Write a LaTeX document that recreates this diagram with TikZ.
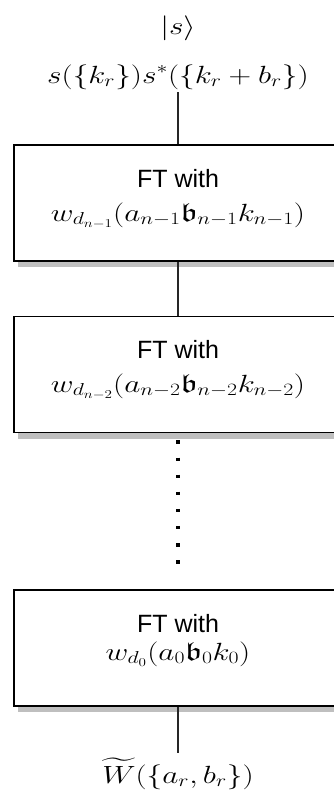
\documentclass[tikz,border=0pt]{standalone}
\usepackage{amsmath,amssymb}
\usepackage{graphicx}
\usepackage{fontspec}
\setsansfont{Liberation Sans}
\usetikzlibrary{shadows}
\newcommand{\widemath}[1]{\scalebox{1.26}[1]{$#1$}}
\tikzset{
  x=1pt,y=1pt,
  ftbox/.style={draw=black,line width=1.8pt,fill=white,minimum width=328pt,minimum height=116pt,inner sep=0pt,
    drop shadow={shadow xshift=4pt,shadow yshift=-6pt,fill=gray!50,opacity=1}},
  fttext/.style={anchor=base,inner sep=0pt,font=\sffamily\fontsize{25}{30}\selectfont},
  mathlbl/.style={anchor=base,inner sep=0pt,font=\fontsize{26}{30}\selectfont},
  conn/.style={draw=black!85,line width=1.3pt},
  dotline/.style={draw=black,line width=3.5pt,dash pattern=on 3.5pt off 13.6pt}
}
\begin{document}
\begin{tikzpicture}
\useasboundingbox (0,0) rectangle (333,-804);
\node[mathlbl] (ket) at (178,-34) {\widemath{|s\rangle}};
\node[mathlbl] (init) at (178,-83) {\widemath{s(\{k_r\})s^*(\{k_r+b_r\})}};
\node[ftbox] (b1) at (178,-203) {};
\node[fttext] (f1) at (178,-187) {FT with};
\node[mathlbl] (m1) at (178,-221) {\widemath{w_{d_{n-1}}(a_{n-1}\mathfrak{b}_{n-1}k_{n-1})}};
\node[ftbox] (b2) at (178,-374.5) {};
\node[fttext] (f2) at (178,-358) {FT with};
\node[mathlbl] (m2) at (178,-392) {\widemath{w_{d_{n-2}}(a_{n-2}\mathfrak{b}_{n-2}k_{n-2})}};
\node[ftbox] (b3) at (178,-648) {};
\node[fttext] (f3) at (178,-632) {FT with};
\node[mathlbl] (m3) at (178,-660) {\widemath{w_{d_0}(a_0\mathfrak{b}_0k_0)}};
\node[mathlbl] (out) at (178,-783) {\widemath{\widetilde{W}(\{a_r,b_r\})}};
\coordinate (c0) at (178,-92);
\coordinate (c3) at (178,-753);
\draw[conn] (c0) -- (b1.north);
\draw[conn] (b1.south) -- (b2.north);
\draw[dotline] ([yshift=-7pt]b2.south) -- ([yshift=25pt]b3.north);
\draw[conn] (b3.south) -- (c3);
\end{tikzpicture}
\end{document}
